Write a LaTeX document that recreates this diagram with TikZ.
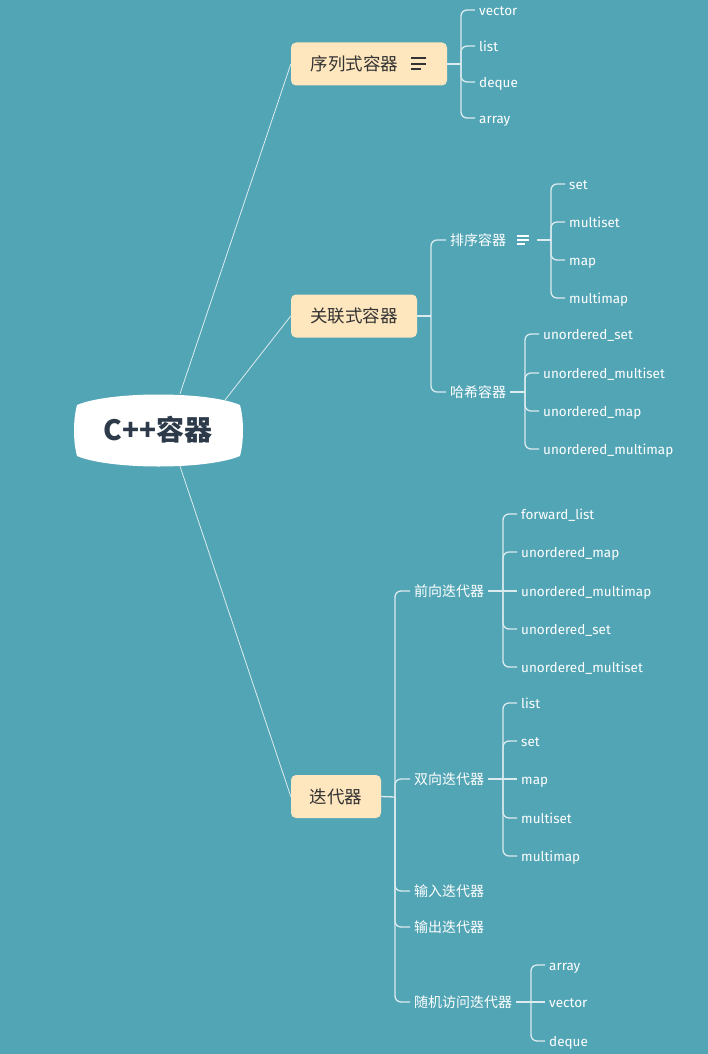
\documentclass[tikz,border=0pt]{standalone}
\usepackage{fontspec}
\setmainfont{Fira Sans}
\newfontfamily\cjk{Noto Sans CJK SC}
\usetikzlibrary{calc}
\definecolor{mapteal}{HTML}{52A5B5}
\definecolor{mappeach}{HTML}{FEE6BE}
\definecolor{mapline}{HTML}{DCEBEE}
\definecolor{mapdark}{HTML}{2C3A4A}
\definecolor{maptext}{HTML}{333333}

\begin{document}
\begin{tikzpicture}[
        x=1pt, y=-1pt,
        rootbox/.style={
          minimum width=166pt,
          minimum height=72pt,
          inner sep=0pt,
          text=mapdark,
          font=\cjk\bfseries\fontsize{28}{30}\selectfont
        },
        topic/.style={
          fill=mappeach,
          rounded corners=5pt,
          minimum height=43pt,
          inner sep=0pt,
          text=maptext,
          font=\cjk\fontsize{17.5}{20}\selectfont
        },
        sub/.style={
          anchor=west,
          inner xsep=4pt,
          inner ysep=2pt,
          text height=12pt,
          text depth=1pt,
          text=white,
          font=\cjk\fontsize{14}{16}\selectfont
        },
        leaf/.style={
          anchor=west,
          inner xsep=4pt,
          inner ysep=2pt,
          text height=12pt,
          text depth=1.5pt,
          text=white,
          font=\fontsize{13.5}{16}\selectfont
        },
        trunk/.style={draw=mapline, line width=0.8pt},
        link/.style={draw=mapline, line width=1.3pt, rounded corners=6pt},
        icon/.style={draw=#1, line width=1.3pt}
      ]

      % background and size
      \fill[mapteal] (0,0) rectangle (708,1054);

      % central topic
      \fill[white] (77,405) .. controls (110,391) and (207,391) .. (240,405)
        .. controls (244,420) and (244,441) .. (240,456)
        .. controls (207,470) and (110,470) .. (77,456)
        .. controls (73,441) and (73,420) .. (77,405) -- cycle;
      \node[rootbox] (root) at (158,430) {C++容器};

      % main topics
      \node[topic, minimum width=156pt] (seq) at (369,64) {序列式容器\hspace{29pt}\null};
      \node[topic, minimum width=126pt] (assoc) at (354,316) {关联式容器};
      \node[topic, minimum width=90pt] (iter) at (336,796.5) {迭代器};

      \draw[icon=maptext] ($(seq.east)+(-36,-6)$) -- ++(15,0);
      \draw[icon=maptext] ($(seq.east)+(-36,0)$) -- ++(15,0);
      \draw[icon=maptext] ($(seq.east)+(-36,5)$) -- ++(10,0);

      \draw[trunk] ($(root.north)+(22,0)$) -- (seq.west);
      \draw[trunk] ($(root.north east)+(-16,6)$) -- (assoc.west);
      \draw[trunk] ($(root.south)+(22,0)$) -- (iter.west);

      % sequence containers
      \coordinate (seqhub) at (461,64);
      \draw[link] (seq.east) -- (seqhub);
      \foreach \txt/\y [count=\i] in {vector/10, list/46, deque/82, array/118} {
        \node[leaf] (seq-\i) at (475,\y) {\txt};
        \draw[link] (seqhub) |- (seq-\i.west);
      }

      % associative containers
      \coordinate (assochub) at (431,316);
      \draw[link] (assoc.east) -- (assochub);
      \node[sub] (sorted) at (446,240) {排序容器\hspace{27pt}\null};
      \node[sub] (hash) at (446,392) {哈希容器};
      \draw[link] (assochub) |- (sorted.west);
      \draw[link] (assochub) |- (hash.west);

      \draw[icon=white] ($(sorted.east)+(-20,-4)$) -- ++(12,0);
      \draw[icon=white] ($(sorted.east)+(-20,0)$) -- ++(12,0);
      \draw[icon=white] ($(sorted.east)+(-20,4)$) -- ++(8,0);

      \coordinate (sortedhub) at (551,240);
      \draw[link] (sorted.east) -- (sortedhub);
      \foreach \txt/\y [count=\i] in {set/184, multiset/222, map/260, multimap/298} {
        \node[leaf] (sorted-\i) at (565,\y) {\txt};
        \draw[link] (sortedhub) |- (sorted-\i.west);
      }

      \coordinate (hashhub) at (525,392);
      \draw[link] (hash.east) -- (hashhub);
      \foreach \txt/\y [count=\i] in {unordered\_set/334, unordered\_multiset/373, unordered\_map/411, unordered\_multimap/449} {
        \node[leaf] (hash-\i) at (539,\y) {\txt};
        \draw[link] (hashhub) |- (hash-\i.west);
      }

      % iterators
      \coordinate (iterhub) at (395,797);
      \draw[link] (iter.east) -- (iterhub);
      \node[sub] (fwd) at (410,591) {前向迭代器};
      \node[sub] (bidi) at (410,779) {双向迭代器};
      \node[sub] (input) at (410,891) {输入迭代器};
      \node[sub] (output) at (410,927) {输出迭代器};
      \node[sub] (rand) at (410,1002) {随机访问迭代器};
      \foreach \n in {fwd, bidi, input, output, rand}
        \draw[link] (iterhub) |- (\n.west);

      \coordinate (fwdhub) at (503,591);
      \node[leaf] (fwd-3) at (517,591) {unordered\_multimap};
      \draw[link] (fwd.east) -- (fwd-3.west);
      \foreach \txt/\y/\i in {forward\_list/514/1, unordered\_map/552/2, unordered\_set/629/4, unordered\_multiset/667/5} {
        \node[leaf] (fwd-\i) at (517,\y) {\txt};
        \draw[link] (fwdhub) |- (fwd-\i.west);
      }

      \coordinate (bidihub) at (503,779);
      \node[leaf] (bidi-3) at (517,779) {map};
      \draw[link] (bidi.east) -- (bidi-3.west);
      \foreach \txt/\y/\i in {list/703/1, set/741/2, multiset/818/4, multimap/856/5} {
        \node[leaf] (bidi-\i) at (517,\y) {\txt};
        \draw[link] (bidihub) |- (bidi-\i.west);
      }

      \coordinate (randhub) at (531,1002);
      \node[leaf] (rand-2) at (545,1002) {vector};
      \draw[link] (rand.east) -- (rand-2.west);
      \foreach \txt/\y/\i in {array/965/1, deque/1041/3} {
        \node[leaf] (rand-\i) at (545,\y) {\txt};
        \draw[link] (randhub) |- (rand-\i.west);
      }

      \end{tikzpicture}
\end{document}
